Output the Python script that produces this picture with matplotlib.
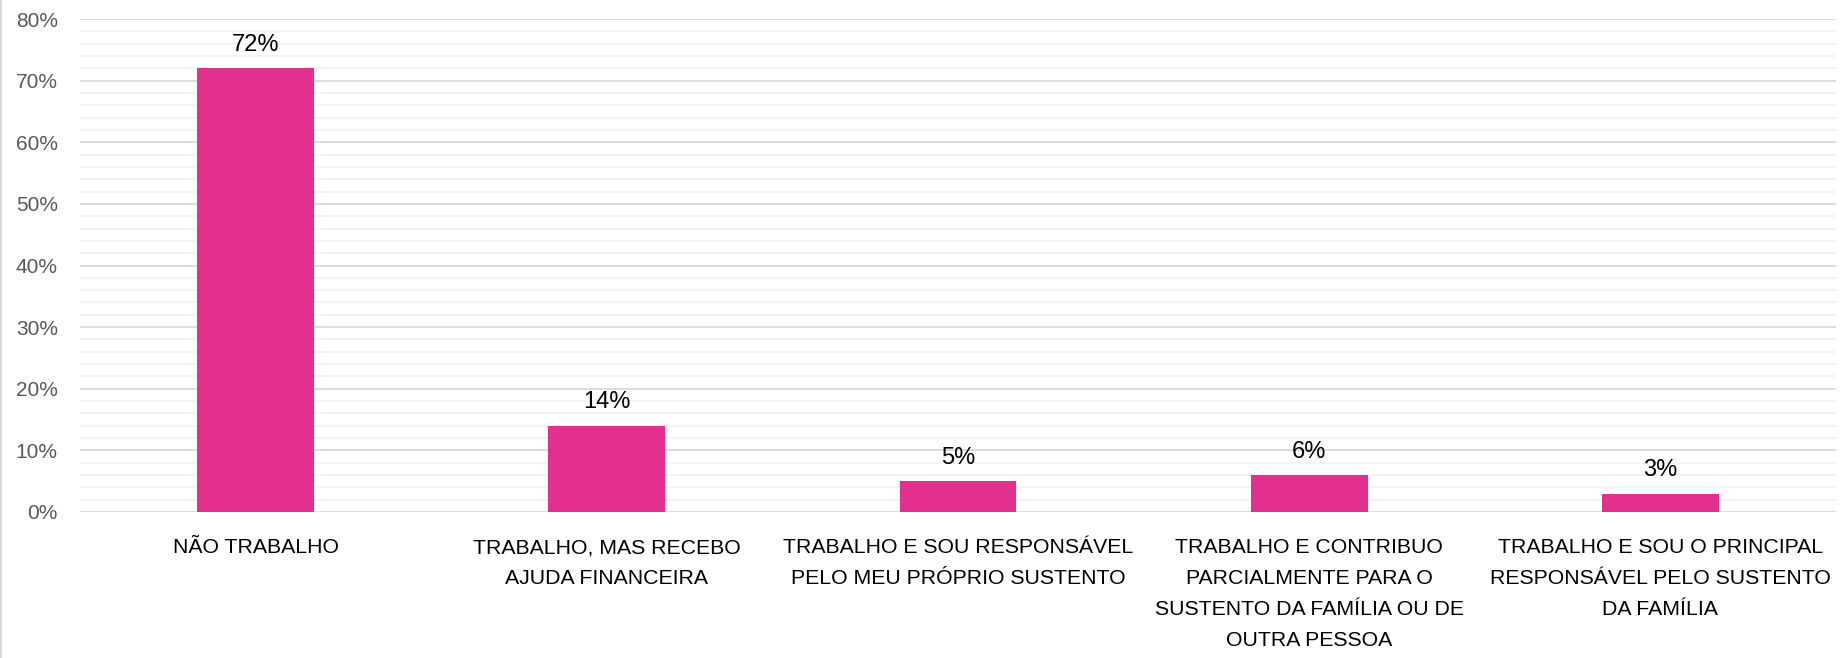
import matplotlib.pyplot as plt
from matplotlib.ticker import MultipleLocator, PercentFormatter
from matplotlib.lines import Line2D

categories = [
    'NÃO TRABALHO',
    'TRABALHO, MAS RECEBO\nAJUDA FINANCEIRA',
    'TRABALHO E SOU RESPONSÁVEL\nPELO MEU PRÓPRIO SUSTENTO',
    'TRABALHO E CONTRIBUO\nPARCIALMENTE PARA O\nSUSTENTO DA FAMÍLIA OU DE\nOUTRA PESSOA',
    'TRABALHO E SOU O PRINCIPAL\nRESPONSÁVEL PELO SUSTENTO\nDA FAMÍLIA',
]
values = [0.72, 0.14, 0.05, 0.06, 0.03]
value_labels = ['72%', '14%', '5%', '6%', '3%']

plt.rcParams['font.family'] = ['Liberation Sans', 'DejaVu Sans']

fig = plt.figure(figsize=(18.45, 6.58), dpi=100)
ax = fig.add_axes([0.0434, 0.2219, 0.9517, 0.7492])

x = range(len(categories))
bars = ax.bar(x, values, width=0.333, color='#E3308F', zorder=3)

for b, lab in zip(bars, value_labels):
    ax.annotate(lab, (b.get_x() + b.get_width() / 2, b.get_height()),
                xytext=(0, 9), textcoords='offset points',
                ha='center', va='bottom', fontsize=17, color='black')

ax.set_xlim(-0.5, len(categories) - 0.5)
ax.set_ylim(0, 0.8)
ax.yaxis.set_major_locator(MultipleLocator(0.1))
ax.yaxis.set_minor_locator(MultipleLocator(0.02))
ax.yaxis.set_major_formatter(PercentFormatter(1.0, decimals=0))
ax.grid(axis='y', which='major', color='#D9D9D9', linewidth=1.3, zorder=0)
ax.grid(axis='y', which='minor', color='#F2F2F2', linewidth=1.3, zorder=0)

ax.set_xticks(list(x))
ax.set_xticklabels(categories, fontsize=15.3, color='black', linespacing=1.8)
ax.tick_params(axis='x', length=0, pad=19)
ax.tick_params(axis='y', which='both', length=0, pad=16, labelsize=15,
               labelcolor='#595959')
for s in ax.spines.values():
    s.set_visible(False)

# chart frame edge on the left
fig.add_artist(Line2D([0.0008, 0.0008], [0, 1], transform=fig.transFigure,
                      color='#D9D9D9', linewidth=1.5))

fig.savefig('out.png', dpi=100)
